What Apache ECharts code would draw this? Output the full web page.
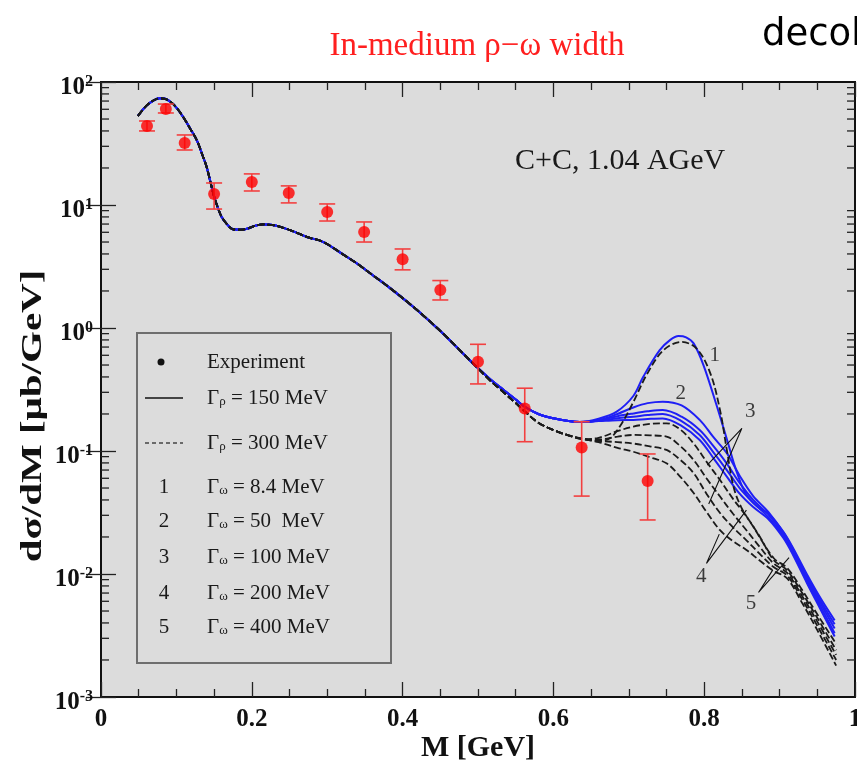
<!DOCTYPE html>
<html>
<head>
<meta charset="utf-8">
<script src="https://cdn.jsdelivr.net/npm/echarts@6/dist/echarts.min.js"></script>
<style>
  html, body { margin: 0; padding: 0; background: #ffffff; }
  #chart { width: 857px; height: 770px; }
</style>
</head>
<body>
<div id="chart"></div>
<script>
// ---- Experimental dilepton spectrum (C+C, 1.04 AGeV) ----
const massExp   = [0.061, 0.086, 0.111, 0.150, 0.200, 0.249, 0.300, 0.349, 0.400, 0.450, 0.500, 0.562, 0.6375, 0.725];
const sigmaExp  = [43.9, 60.3, 31.9, 12.3, 15.4, 12.5, 8.77, 6.03, 3.62, 2.04, 0.532, 0.222, 0.107, 0.057];
const sigmaLow  = [40.0, 56.0, 28.0, 9.27, 13.0, 10.4, 7.41, 5.00, 2.97, 1.69, 0.351, 0.119, 0.043, 0.0275];
const sigmaHigh = [48.2, 66.2, 37.1, 15.1, 17.9, 14.3, 10.2, 7.28, 4.39, 2.43, 0.737, 0.324, 0.173, 0.0946];

// ---- Model curves: part common to every width ----
const massShared  = [0.049, 0.06, 0.07, 0.078, 0.085, 0.092, 0.10, 0.109, 0.118, 0.127, 0.135, 0.14, 0.145, 0.15, 0.155, 0.16, 0.167, 0.175, 0.185, 0.195, 0.205, 0.215, 0.225, 0.237, 0.255, 0.273, 0.295, 0.32, 0.339, 0.36, 0.383, 0.414, 0.437, 0.458, 0.478, 0.498];
const sigmaShared = [53, 64, 71, 73.6, 73, 69, 62, 52, 42, 33.7, 25, 20.5, 15.5, 11.7, 9.5, 8.0, 7.0, 6.35, 6.3, 6.45, 6.8, 6.95, 6.9, 6.67, 6.1, 5.5, 5.0, 4.0, 3.36, 2.70, 2.12, 1.49, 1.12, 0.85, 0.64, 0.484];

// Gamma_rho = 150 MeV (solid) before the omega region
const massRho150  = [0.517, 0.534, 0.55, 0.562, 0.58, 0.60, 0.62, 0.635];
const sigmaRho150 = [0.38, 0.313, 0.262, 0.229, 0.20, 0.1845, 0.175, 0.172];
// Gamma_rho = 300 MeV (dashed) before the omega region
const massRho300  = [0.517, 0.534, 0.55, 0.562, 0.58, 0.60, 0.62, 0.64];
const sigmaRho300 = [0.37, 0.30, 0.245, 0.21, 0.17, 0.148, 0.134, 0.125];

// Omega region, Gamma_rho = 150 MeV, curves 1..5
const massSolid1  = [0.66, 0.684, 0.706, 0.719, 0.741, 0.755, 0.766, 0.776, 0.786, 0.799, 0.816, 0.830, 0.843, 0.856, 0.874, 0.885, 0.905, 0.918, 0.936, 0.954, 0.973];
const sigmaSolid1 = [0.183, 0.209, 0.28, 0.40, 0.66, 0.80, 0.86, 0.84, 0.75, 0.50, 0.24, 0.125, 0.068, 0.044, 0.034, 0.031, 0.022, 0.0162, 0.0100, 0.0064, 0.0042];
const massSolidW  = [0.66, 0.685, 0.706, 0.725, 0.745, 0.77, 0.794, 0.812, 0.830, 0.847, 0.865, 0.885, 0.905, 0.918, 0.936, 0.954, 0.973];
const sigmaSolid2 = [0.178, 0.200, 0.226, 0.245, 0.252, 0.235, 0.179, 0.130, 0.096, 0.063, 0.043, 0.032, 0.0218, 0.0158, 0.0096, 0.0061, 0.0039];
const sigmaSolid3 = [0.177, 0.192, 0.202, 0.210, 0.215, 0.190, 0.148, 0.110, 0.079, 0.055, 0.040, 0.0305, 0.0210, 0.0152, 0.0092, 0.0058, 0.0036];
const sigmaSolid4 = [0.176, 0.185, 0.190, 0.196, 0.200, 0.175, 0.135, 0.098, 0.070, 0.050, 0.038, 0.029, 0.0203, 0.0147, 0.0088, 0.0055, 0.0033];
const sigmaSolid5 = [0.175, 0.178, 0.179, 0.182, 0.184, 0.160, 0.123, 0.088, 0.062, 0.045, 0.035, 0.028, 0.0196, 0.0142, 0.0085, 0.0052, 0.0031];

// Omega region, Gamma_rho = 300 MeV, curves 1..5
const massDash1  = [0.66, 0.675, 0.69, 0.706, 0.724, 0.746, 0.770, 0.790, 0.808, 0.821, 0.830, 0.839, 0.849, 0.865, 0.892, 0.91, 0.93, 0.95, 0.975];
const sigmaDash1 = [0.121, 0.127, 0.165, 0.25, 0.42, 0.66, 0.77, 0.68, 0.43, 0.215, 0.102, 0.051, 0.035, 0.0243, 0.0135, 0.0112, 0.0074, 0.0047, 0.0027];
const massDashW  = [0.66, 0.685, 0.706, 0.728, 0.750, 0.768, 0.786, 0.803, 0.821, 0.838, 0.856, 0.874, 0.892, 0.91, 0.93, 0.95, 0.975];
const sigmaDash2 = [0.128, 0.145, 0.158, 0.166, 0.168, 0.150, 0.115, 0.082, 0.058, 0.041, 0.0294, 0.0200, 0.0130, 0.0107, 0.0070, 0.0044, 0.0024];
const sigmaDash3 = [0.124, 0.131, 0.135, 0.134, 0.131, 0.110, 0.0845, 0.060, 0.0426, 0.031, 0.0227, 0.0165, 0.0122, 0.0102, 0.0066, 0.0041, 0.0022];
const sigmaDash4 = [0.121, 0.118, 0.115, 0.109, 0.102, 0.085, 0.066, 0.045, 0.0313, 0.024, 0.0188, 0.0145, 0.0114, 0.0097, 0.0062, 0.0038, 0.0020];
const sigmaDash5 = [0.118, 0.106, 0.0986, 0.089, 0.0794, 0.062, 0.0455, 0.032, 0.0227, 0.0185, 0.0157, 0.0128, 0.0106, 0.0092, 0.0058, 0.0035, 0.0018];

// Curve numbers and their pointer lines (in data units)
const curveLabels   = ['1', '2', '3', '4', '5'];
const curveLabelPos = [[0.814, 0.602], [0.769, 0.296], [0.861, 0.211], [0.796, 0.00946], [0.862, 0.0058]];
const pointer3 = [[0.804, 0.0769], [0.850, 0.153], [0.806, 0.0371]];
const pointer4 = [[0.820, 0.0211], [0.803, 0.0122], [0.856, 0.0331]];
const pointer5 = [[0.891, 0.0108], [0.872, 0.00708], [0.9125, 0.0136]];

// Axis ticks
const xTickLabels = { 0: '0', 0.2: '0.2', 0.4: '0.4', 0.6: '0.6', 0.8: '0.8', 1: '1' };
const yDecades = [-3, -2, -1, 0, 1, 2];

// ---------------------------------------------------------------
const zip = (xs, ys) => xs.map((x, i) => [x, ys[i]]);
const curve = (...parts) => parts.reduce((acc, p) => acc.concat(zip(p[0], p[1])), []);

const solidCurves = [
  curve([massShared, sigmaShared], [massRho150, sigmaRho150], [massSolid1, sigmaSolid1]),
  curve([massShared, sigmaShared], [massRho150, sigmaRho150], [massSolidW, sigmaSolid2]),
  curve([massShared, sigmaShared], [massRho150, sigmaRho150], [massSolidW, sigmaSolid3]),
  curve([massShared, sigmaShared], [massRho150, sigmaRho150], [massSolidW, sigmaSolid4]),
  curve([massShared, sigmaShared], [massRho150, sigmaRho150], [massSolidW, sigmaSolid5])
];
const dashedCurves = [
  curve([massShared, sigmaShared], [massRho300, sigmaRho300], [massDash1, sigmaDash1]),
  curve([massShared, sigmaShared], [massRho300, sigmaRho300], [massDashW, sigmaDash2]),
  curve([massShared, sigmaShared], [massRho300, sigmaRho300], [massDashW, sigmaDash3]),
  curve([massShared, sigmaShared], [massRho300, sigmaRho300], [massDashW, sigmaDash4]),
  curve([massShared, sigmaShared], [massRho300, sigmaRho300], [massDashW, sigmaDash5])
];

// minor ticks of the log axis: 2..9 in every decade
const yMinorTicks = [];
for (let e = -3; e < 2; e++) {
  for (let m = 2; m <= 9; m++) yMinorTicks.push(m * Math.pow(10, e));
}

const SERIF = '"Liberation Serif", "Times New Roman", serif';
const BLUE = '#1f1ff5';
const DASH = '#1a1a1a';

const series = [];
solidCurves.forEach((d) => series.push({
  type: 'line', data: d, showSymbol: false, smooth: 0.35, z: 3,
  lineStyle: { color: BLUE, width: 2 }
}));
dashedCurves.forEach((d) => series.push({
  type: 'line', data: d, showSymbol: false, smooth: 0.35, z: 4,
  lineStyle: { color: DASH, width: 1.8, type: [7, 3] }
}));

// error bars
series.push({
  type: 'custom', z: 5,
  data: massExp.map((m, i) => [m, sigmaLow[i], sigmaHigh[i]]),
  encode: { x: 0, y: [1, 2] },
  renderItem: (params, api) => {
    const lo = api.coord([api.value(0), api.value(1)]);
    const hi = api.coord([api.value(0), api.value(2)]);
    const w = 8;
    const st = { stroke: '#f24040', lineWidth: 1.6 };
    return {
      type: 'group',
      children: [
        { type: 'line', shape: { x1: lo[0], y1: lo[1], x2: hi[0], y2: hi[1] }, style: st },
        { type: 'line', shape: { x1: lo[0] - w, y1: lo[1], x2: lo[0] + w, y2: lo[1] }, style: st },
        { type: 'line', shape: { x1: hi[0] - w, y1: hi[1], x2: hi[0] + w, y2: hi[1] }, style: st }
      ]
    };
  }
});
// data points
series.push({
  type: 'scatter', z: 6, symbol: 'circle', symbolSize: 12,
  data: zip(massExp, sigmaExp),
  itemStyle: { color: '#ff0000' }
});
// pointer lines for curve groups 3, 4, 5
[pointer3, pointer4, pointer5].forEach((p) => series.push({
  type: 'line', data: p, showSymbol: false, z: 7,
  lineStyle: { color: '#111111', width: 1.1 }
}));
// curve numbers
series.push({
  type: 'scatter', z: 8, symbolSize: 0,
  data: curveLabelPos.map((p, i) => ({ value: p, name: curveLabels[i] })),
  label: {
    show: true, position: 'inside', formatter: '{b}',
    fontFamily: SERIF, fontSize: 21, color: '#111111'
  }
});
// minor ticks of the log axis on both sides of the frame
series.push({
  type: 'custom', z: 9, silent: true,
  data: yMinorTicks.map((v) => [0, v]),
  encode: { x: 0, y: 1 },
  renderItem: (params, api) => {
    const v = api.value(1);
    const l = api.coord([0, v]);
    const r = api.coord([1, v]);
    const st = { stroke: '#222222', lineWidth: 1.3 };
    return {
      type: 'group',
      children: [
        { type: 'line', shape: { x1: l[0], y1: l[1], x2: l[0] + 8, y2: l[1] }, style: st },
        { type: 'line', shape: { x1: r[0] - 8, y1: r[1], x2: r[0], y2: r[1] }, style: st }
      ]
    };
  }
});

const xAxisCommon = {
  type: 'value', min: 0, max: 1, interval: 0.2,
  splitLine: { show: false },
  axisLine: { show: true, lineStyle: { color: '#111', width: 2 } },
  axisTick: { show: true, inside: true, length: 15, lineStyle: { color: '#222', width: 1.3 } },
  minorTick: { show: true, splitNumber: 4, length: 8, lineStyle: { color: '#222', width: 1.3 } }
};
const yAxisCommon = {
  type: 'log', logBase: 10, min: 0.001, max: 100, splitNumber: 5,
  splitLine: { show: false },
  axisLine: { show: true, lineStyle: { color: '#111', width: 2 } },
  axisTick: { show: true, inside: true, length: 15, lineStyle: { color: '#222', width: 1.3 } }
};

const legendRows = [
  { y: 362, key: 'dot',  text: 'Experiment' },
  { y: 398, key: 'line', text: '{g|Γ}{s|ρ}{t| = 150 MeV}' },
  { y: 443, key: 'dash', text: '{g|Γ}{s|ρ}{t| = 300 MeV}' },
  { y: 487, key: '1',    text: '{g|Γ}{s|ω}{t| = 8.4 MeV}' },
  { y: 521, key: '2',    text: '{g|Γ}{s|ω}{t| = 50  MeV}' },
  { y: 557, key: '3',    text: '{g|Γ}{s|ω}{t| = 100 MeV}' },
  { y: 593, key: '4',    text: '{g|Γ}{s|ω}{t| = 200 MeV}' },
  { y: 627, key: '5',    text: '{g|Γ}{s|ω}{t| = 400 MeV}' }
];
const legendRich = {
  g: { fontFamily: SERIF, fontSize: 21, fill: '#1a1a1a', padding: [0, 0, 8, 0] },
  s: { fontFamily: SERIF, fontSize: 13, fill: '#1a1a1a' },
  t: { fontFamily: SERIF, fontSize: 21, fill: '#1a1a1a', padding: [0, 0, 8, 0] }
};
const legendChildren = [
  { type: 'rect', shape: { x: 137, y: 333, width: 254, height: 330 },
    style: { fill: '#dcdcdc', stroke: '#6e6e6e', lineWidth: 2 } }
];
legendRows.forEach((row) => {
  if (row.key === 'dot') {
    legendChildren.push({ type: 'circle', shape: { cx: 161, cy: row.y, r: 3.5 }, style: { fill: '#111' } });
    legendChildren.push({ type: 'text', x: 207, y: row.y,
      style: { text: row.text, font: '21px ' + SERIF, fill: '#1a1a1a', verticalAlign: 'middle' } });
    return;
  }
  if (row.key === 'line') {
    legendChildren.push({ type: 'line', shape: { x1: 145, y1: row.y, x2: 183, y2: row.y }, style: { stroke: '#444', lineWidth: 2 } });
  } else if (row.key === 'dash') {
    legendChildren.push({ type: 'line', shape: { x1: 145, y1: row.y, x2: 183, y2: row.y }, style: { stroke: '#444', lineWidth: 1.5, lineDash: [4, 3] } });
  } else {
    legendChildren.push({ type: 'text', x: 164, y: row.y,
      style: { text: row.key, font: '21px ' + SERIF, fill: '#1a1a1a', align: 'center', verticalAlign: 'middle' } });
  }
  legendChildren.push({ type: 'text', x: 207, y: row.y + 4,
    style: { text: row.text, rich: legendRich, verticalAlign: 'middle' } });
});

const option = {
  backgroundColor: '#ffffff',
  animation: false,
  grid: {
    left: 101, right: 2, top: 82, height: 615,
    outerBoundsMode: 'none', containLabel: false,
    show: true, backgroundColor: '#dcdcdc', borderColor: '#111', borderWidth: 2
  },
  xAxis: [
    Object.assign({}, xAxisCommon, {
      position: 'bottom',
      axisLabel: {
        show: true, margin: 10, fontFamily: SERIF, fontWeight: 'bold', fontSize: 25, color: '#111',
        formatter: (v) => xTickLabels[Math.round(v * 10) / 10] || ''
      }
    }),
    Object.assign({}, xAxisCommon, { position: 'top', axisLabel: { show: false } })
  ],
  yAxis: [
    Object.assign({}, yAxisCommon, {
      position: 'left',
      axisLabel: {
        show: true, margin: 8, padding: [12, 0, 0, 0],
        formatter: (v) => {
          const e = Math.round(Math.log10(v));
          return yDecades.includes(e) ? '{b|10}{s|' + e + '}' : '';
        },
        rich: {
          b: { fontFamily: SERIF, fontWeight: 'bold', fontSize: 25, color: '#111' },
          s: { fontFamily: SERIF, fontWeight: 'bold', fontSize: 16, color: '#111', padding: [0, 0, 13, 0] }
        }
      }
    }),
    Object.assign({}, yAxisCommon, { position: 'right', axisLabel: { show: false } })
  ],
  series: series,
  graphic: [
    { type: 'text', x: 477, y: 46,
      style: { text: 'In-medium ρ−ω width', font: '33px ' + SERIF, fill: '#ff1f1f', align: 'center', verticalAlign: 'middle' } },
    { type: 'text', x: 762, y: 35,
      style: { text: 'decoherence', font: '37px "DejaVu Sans", sans-serif', fill: '#000', verticalAlign: 'middle' } },
    { type: 'text', x: 515, y: 161,
      style: { text: 'C+C, 1.04 AGeV', font: '30px ' + SERIF, fill: '#1a1a1a', verticalAlign: 'middle' } },
    { type: 'text', x: 478, y: 748,
      style: { text: 'M [GeV]', font: 'bold 30px ' + SERIF, fill: '#111', align: 'center', verticalAlign: 'middle' } },
    { type: 'text', x: 33, y: 416, rotation: Math.PI / 2, scaleY: 0.74,
      style: { text: 'dσ/dM [μb/GeV]', font: 'bold 41px ' + SERIF, fill: '#111', align: 'center', verticalAlign: 'middle' } },
    { type: 'group', children: legendChildren, z: 100 }
  ]
};

const chart = echarts.init(document.getElementById('chart'), null, { renderer: 'canvas' });
chart.setOption(option);
</script>
</body>
</html>
